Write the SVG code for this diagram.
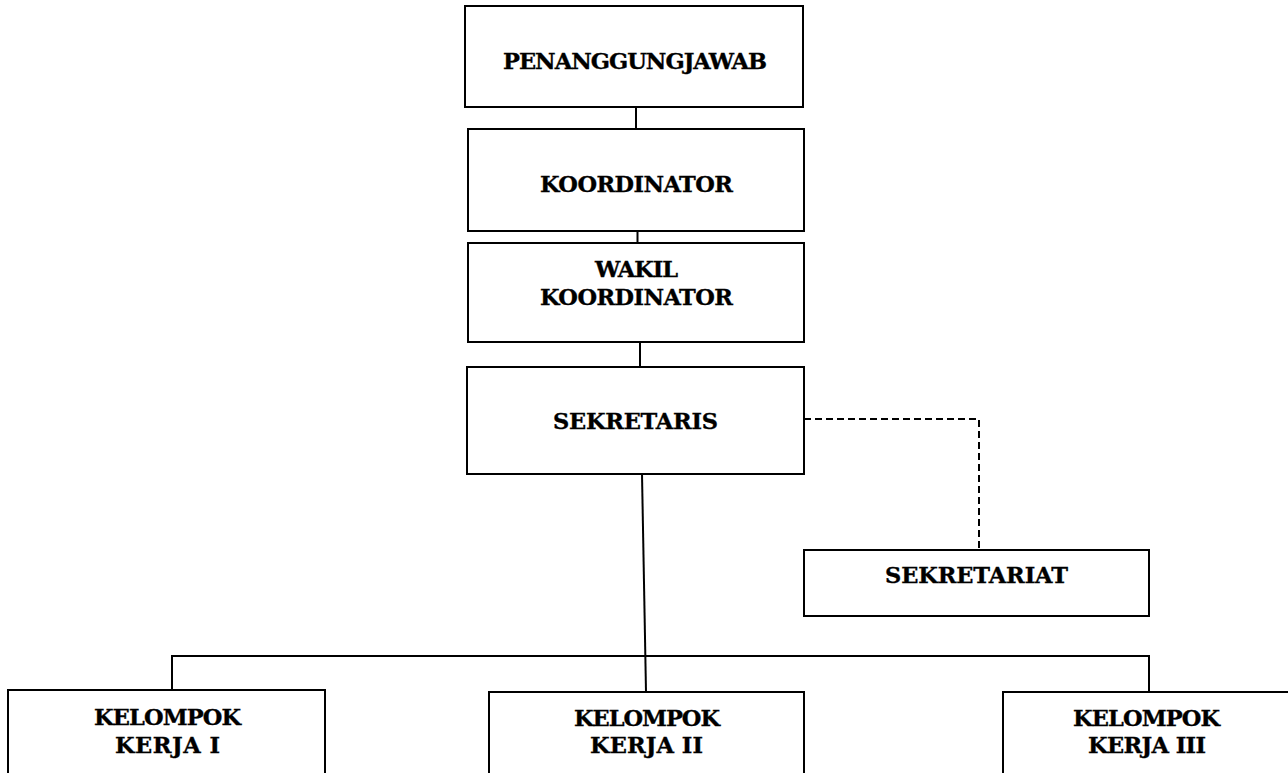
<svg xmlns="http://www.w3.org/2000/svg" width="1288" height="773" viewBox="0 0 1288 773">
<style>
.box{fill:#fff;stroke:#000;stroke-width:2}
.ln{fill:none;stroke:#000;stroke-width:2}
.dash{fill:none;stroke:#000;stroke-width:2;stroke-dasharray:7 4}
text{font-family:"DejaVu Serif","Liberation Serif",serif;font-weight:bold;font-size:22.5px;fill:#000;stroke:#000;stroke-width:0.35;text-anchor:middle}
</style>
<rect width="1288" height="773" fill="#fff"/>
<g id="connectors">
<line class="ln" x1="636" y1="107" x2="636" y2="129"/>
<line class="ln" x1="637.5" y1="231" x2="637.5" y2="243"/>
<line class="ln" x1="640" y1="342" x2="640" y2="367"/>
<line class="ln" x1="642" y1="474" x2="646" y2="692"/>
<polyline class="ln" points="172,690 172,656 1149,656 1149,692"/>
<polyline class="dash" points="804,419 979,419 979,550"/>
</g>
<g id="penanggungjawab">
<rect class="box" x="465" y="6" width="338" height="101"/>
<text x="635" y="69" textLength="264">PENANGGUNGJAWAB</text>
</g>
<g id="koordinator">
<rect class="box" x="468" y="129" width="336" height="102"/>
<text x="636.5" y="192" textLength="193">KOORDINATOR</text>
</g>
<g id="wakil-koordinator">
<rect class="box" x="468" y="243" width="336" height="99"/>
<text x="636.5" y="277" textLength="83">WAKIL</text>
<text x="636.5" y="305" textLength="193">KOORDINATOR</text>
</g>
<g id="sekretaris">
<rect class="box" x="467" y="367" width="337" height="107"/>
<text x="635.5" y="429" textLength="165">SEKRETARIS</text>
</g>
<g id="sekretariat">
<rect class="box" x="804" y="550" width="345" height="66"/>
<text x="976.5" y="583" textLength="183">SEKRETARIAT</text>
</g>
<g id="kelompok-kerja-1">
<rect class="box" x="8" y="690" width="317" height="120"/>
<text x="167.5" y="725" textLength="147">KELOMPOK</text>
<text x="167.5" y="753" textLength="105">KERJA I</text>
</g>
<g id="kelompok-kerja-2">
<rect class="box" x="489" y="692" width="315" height="120"/>
<text x="647" y="726" textLength="146">KELOMPOK</text>
<text x="646.5" y="753" textLength="113">KERJA II</text>
</g>
<g id="kelompok-kerja-3">
<rect class="box" x="1003" y="692" width="287" height="120"/>
<text x="1146.5" y="726" textLength="147">KELOMPOK</text>
<text x="1147" y="753" textLength="118">KERJA III</text>
</g>
</svg>
